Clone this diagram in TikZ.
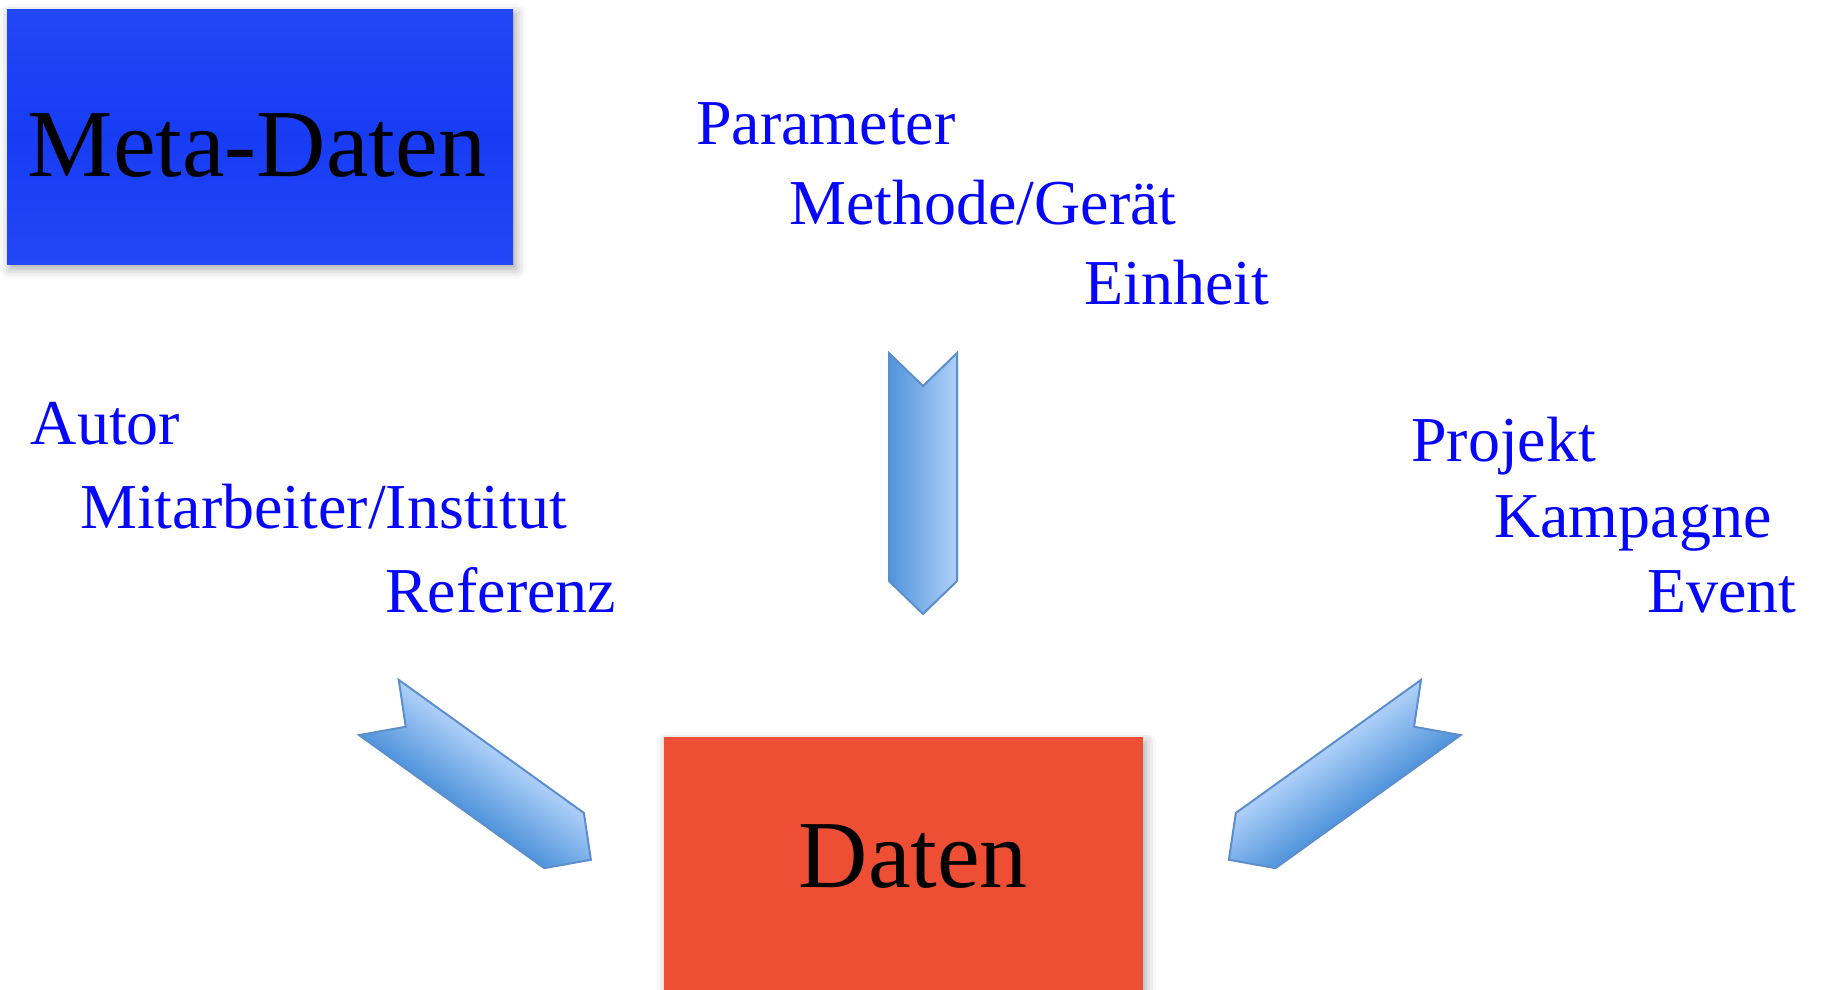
\documentclass[tikz,border=0pt]{standalone}
\usepackage{fontspec}
\setmainfont{Liberation Serif}
\usetikzlibrary{shadows.blur}

\definecolor{metablue}{RGB}{33,71,246}
\definecolor{metabluemid}{RGB}{24,60,244}
\definecolor{datared}{RGB}{238,78,51}
\definecolor{labelblue}{RGB}{6,6,250}
\definecolor{arrowdark}{RGB}{80,148,219}
\definecolor{arrowlight}{RGB}{174,208,249}
\definecolor{arrowedge}{RGB}{92,142,204}

\tikzset{
  boxshadow/.style={blur shadow={shadow xshift=3pt, shadow yshift=-5pt,
      shadow blur radius=10pt, shadow opacity=35}},
  metabox/.style={rectangle, inner sep=0pt, boxshadow,
      top color=metablue, bottom color=metablue, middle color=metabluemid},
  databox/.style={rectangle, inner sep=0pt, boxshadow, fill=datared},
  boxlabel/.style={anchor=base west, inner sep=0pt, text=black,
      font=\fontsize{96}{96}\selectfont},
  item/.style={anchor=base west, inner sep=0pt, text=labelblue,
      font=\fontsize{64}{64}\selectfont},
  chevronstyle/.style={draw=arrowedge, line width=2pt, line join=miter,
      blur shadow={shadow xshift=0pt, shadow yshift=-3pt,
      shadow blur radius=5pt, shadow opacity=25}},
  % block arrow pointing down, centred on the origin
  chevron/.pic={
    \path[pic actions] (-34,-114) -- (0,-81) -- (34,-114) -- (34,114)
      -- (0,147) -- (-34,114) -- cycle;
  }
}

\begin{document}
\begin{tikzpicture}[x=1pt, y=-1pt]
  \useasboundingbox (0,0) rectangle (1822,989);

  % the two boxes
  \node[metabox, minimum width=506pt, minimum height=255pt] (meta) at (260,136.5) {};
  \node[boxlabel] (metaText) at (27.5,176.7) {Meta-Daten};

  \node[databox, minimum width=479pt, minimum height=280pt] (daten) at (903.5,877) {};
  \node[boxlabel] (datenText) at (798.5,887.3) {Daten};

  % descriptive items
  \node[item] (param)   at (696,144)   {Parameter};
  \node[item] (methode) at (789,224)   {Methode/Gerät};
  \node[item] (einheit) at (1084,304)  {Einheit};

  \node[item] (autor)   at (30.7,444.5) {Autor};
  \node[item] (mitarb)  at (80,528.3)   {Mitarbeiter/Institut};
  \node[item] (referenz) at (385,612.5) {Referenz};

  \node[item] (projekt)  at (1411,461.5) {Projekt};
  \node[item] (kampagne) at (1494,537)   {Kampagne};
  \node[item] (event)    at (1647,612)   {Event};

  % block arrows towards the data box
  \begin{scope}[transform canvas={shift={(923,467)}}]
    \pic[chevronstyle, left color=arrowdark, right color=arrowlight] (arrowTop) {chevron};
  \end{scope}
  \begin{scope}[transform canvas={shift={(471.5,774)}, rotate=54.3}]
    \pic[chevronstyle, left color=arrowdark, right color=arrowlight] (arrowLeft) {chevron};
  \end{scope}
  \begin{scope}[transform canvas={shift={(1348.25,774)}, rotate=-54.3}]
    \pic[chevronstyle, left color=arrowlight, right color=arrowdark] (arrowRight) {chevron};
  \end{scope}
\end{tikzpicture}
\end{document}
